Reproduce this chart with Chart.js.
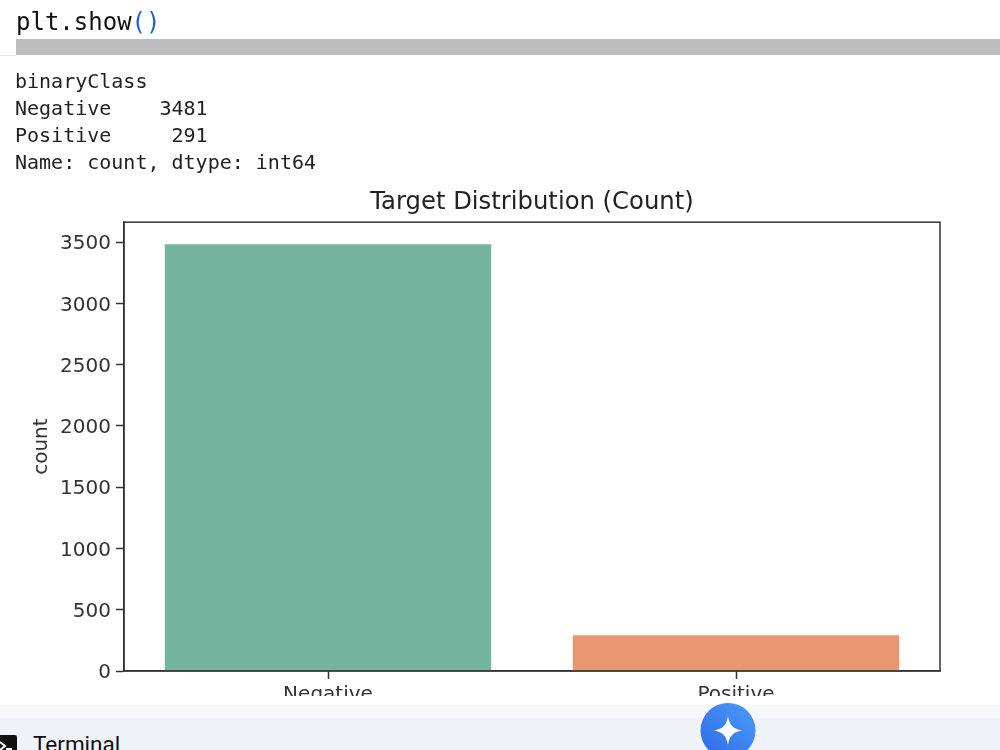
<!DOCTYPE html>
<html>
<head>
<meta charset="utf-8">
<script src="https://cdn.jsdelivr.net/npm/chart.js@4"></script>
<style>
html,body{margin:0;padding:0;background:#fff;width:1000px;height:750px;overflow:hidden}
canvas{position:absolute;left:0;top:0}
.o{position:absolute}
.m{position:absolute;left:15px;font:20px/27px "DejaVu Sans Mono",monospace;color:#222;white-space:pre}
</style>
</head>
<body>
<canvas id="c" width="1000" height="750"></canvas>
<div class="o" style="left:16px;top:6px;font:24px/32px 'DejaVu Sans Mono',monospace;color:#111;white-space:pre">plt.show<span style="color:#1f5fe0">()</span></div>
<div class="o" style="left:16px;top:39px;width:984px;height:16px;background:#bdbdbd"></div>
<div class="o" style="left:0;top:55px;width:16px;height:1px;background:#e4e4e4"></div>
<div class="m" style="top:68px">binaryClass</div>
<div class="m" style="top:95px">Negative    3481</div>
<div class="m" style="top:122px">Positive     291</div>
<div class="m" style="top:149px">Name: count, dtype: int64</div>
<div class="o" style="left:0;top:696px;width:1000px;height:9px;background:#fff"></div>
<div class="o" style="left:0;top:705px;width:1000px;height:13px;background:#f8f9fc"></div>
<div class="o" style="left:0;top:718px;width:1000px;height:32px;background:#eff2f7;overflow:hidden">
  <svg style="position:absolute;left:-4px;top:17px" width="21" height="20"><rect x="0" y="0" width="21" height="20" rx="2" fill="#111"/><path d="M4 7l5 4-5 4" stroke="#fff" stroke-width="2" fill="none"/><path d="M10 14h6" stroke="#fff" stroke-width="2"/></svg>
  <div style="position:absolute;left:33px;top:13px;font:22.5px/26px Roboto,sans-serif;color:#111">Terminal</div>
</div>
<svg class="o" style="left:700px;top:703px" width="56" height="47">
  <defs><linearGradient id="g" x1="0" y1="1" x2="1" y2="0"><stop offset="0" stop-color="#2f68e6"/><stop offset="1" stop-color="#4c9dfb"/></linearGradient></defs>
  <circle cx="28" cy="27.5" r="27.5" fill="url(#g)"/>
  <path d="M28 13 C29.5 22 33 26 42 27.5 C33 29 29.5 33 28 42 C26.5 33 23 29 14 27.5 C23 26 26.5 22 28 13Z" fill="#fff"/>
</svg>
<script>
const categories = ["Negative", "Positive"];
const counts = [3481, 291];
const barColors = ["#74b49f", "#e99673"];
const yTickValues = [0, 500, 1000, 1500, 2000, 2500, 3000, 3500];
const yMax = 3662;
const ink = "#333333";
const fontName = "'DejaVu Sans'";

const frame = {
  id: "frame",
  beforeDraw(chart) {
    const s = chart.scales.y, draw = s.drawLabels;
    if (s._nudged) return;
    s._nudged = true;
    s.drawLabels = function (a) {
      chart.ctx.save();
      chart.ctx.translate(0, 2);
      draw.call(this, a);
      chart.ctx.restore();
    };
  },
  afterDatasetsDraw(chart) {
    const a = chart.chartArea, x = chart.ctx;
    x.save();
    x.strokeStyle = "#333";
    x.lineWidth = 1.5;
    x.strokeRect(a.left, a.top, a.right - a.left, a.bottom - a.top);
    x.restore();
  }
};

new Chart(document.getElementById("c"), {
  type: "bar",
  data: {
    labels: categories,
    datasets: [{ data: counts, backgroundColor: barColors, borderWidth: 0,
      barPercentage: 0.8, categoryPercentage: 1 }]
  },
  plugins: [frame],
  options: {
    responsive: false,
    animation: false,
    layout: { padding: { left: 0, right: 60, top: 0, bottom: 0 } },
    plugins: {
      legend: { display: false },
      tooltip: { enabled: false },
      title: {
        display: true,
        text: "Target Distribution (Count)",
        fullSize: false,
        color: "#222",
        font: { family: fontName, size: 24.3, weight: "normal" },
        padding: { top: 188, bottom: 5 }
      }
    },
    scales: {
      x: {
        afterFit(s) { s.height = 79; },
        grid: { display: true, offset: false, drawOnChartArea: false, color: ink, tickLength: 8, tickWidth: 1.5 },
        border: { color: ink, width: 1.5 },
        ticks: { color: ink, font: { family: fontName, size: 20 }, padding: 4, maxRotation: 0 }
      },
      y: {
        min: 0,
        max: yMax,
        afterFit(s) { s.width = 124; },
        afterBuildTicks(s) { s.ticks = yTickValues.map(v => ({ value: v })); },
        grid: { display: true, drawOnChartArea: false, color: ink, tickLength: 8, tickWidth: 1.5 },
        border: { color: ink, width: 1.5 },
        ticks: { color: ink, font: { family: fontName, size: 20 }, padding: 5, autoSkip: false,
          callback: v => String(v) },
        title: { display: true, text: "count", color: ink,
          font: { family: fontName, size: 20 }, padding: { top: 30, bottom: 0 } }
      }
    }
  }
});
</script>
</body>
</html>
